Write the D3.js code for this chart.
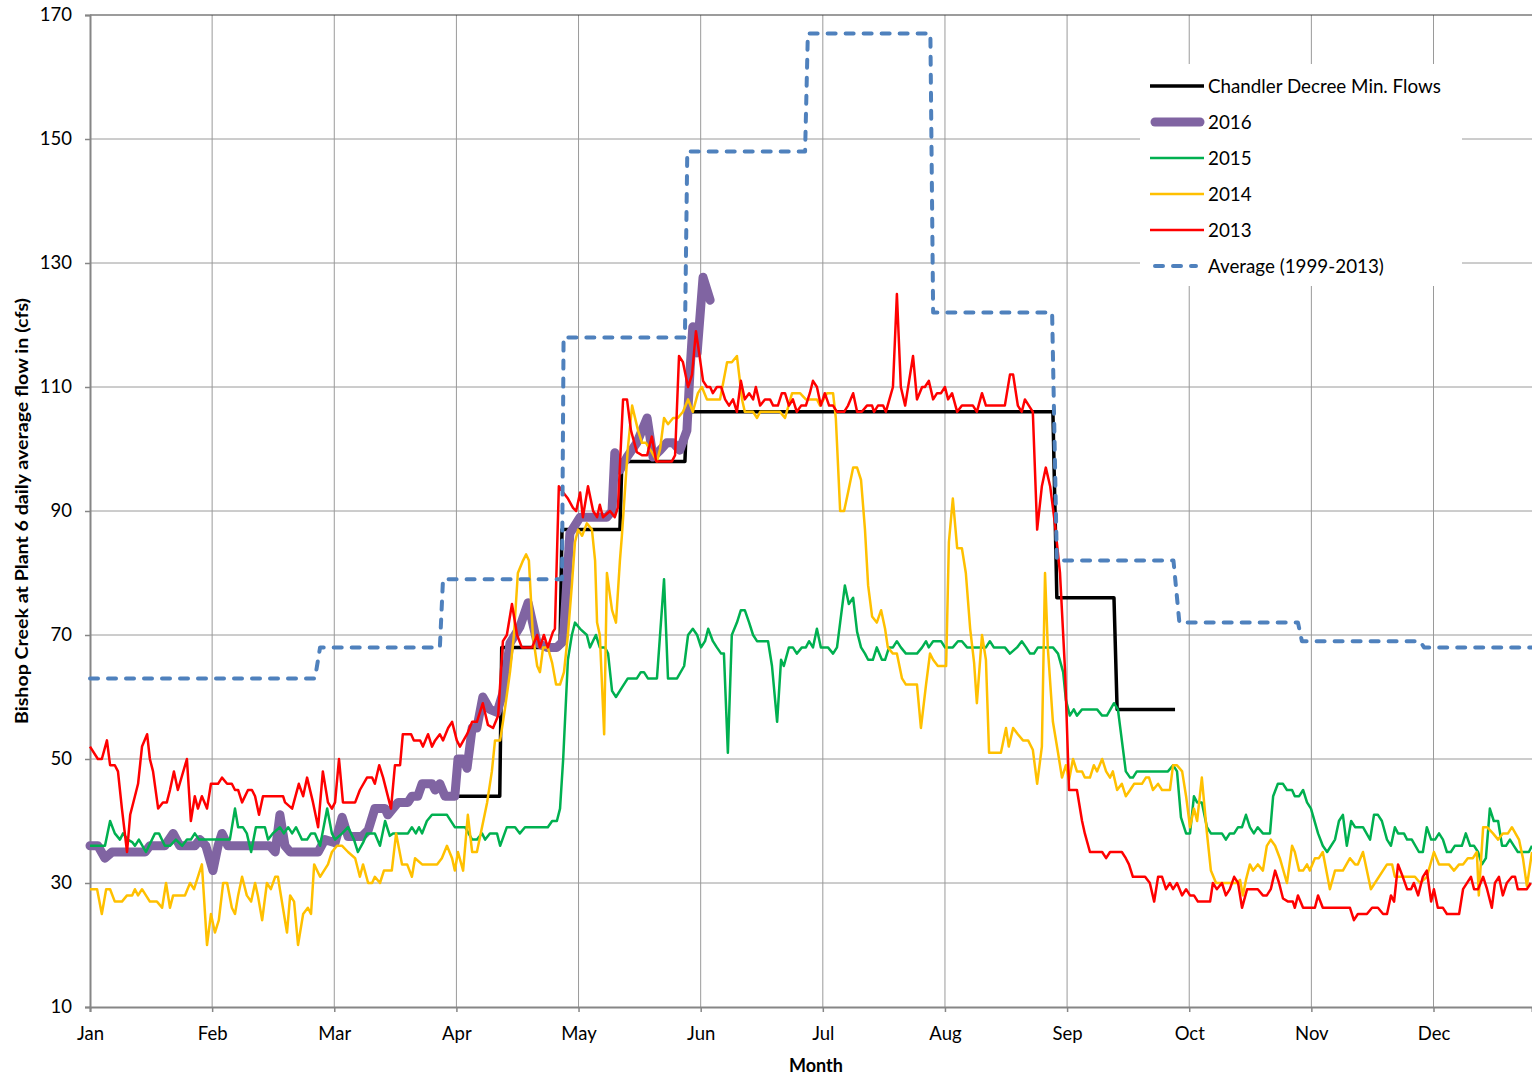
<!DOCTYPE html>
<html><head><meta charset="utf-8">
<script src="https://cdn.jsdelivr.net/npm/d3@7"></script>
<style>
body{margin:0;background:#fff;overflow:hidden;}
text{font-family:Lato,"Noto Sans",sans-serif;fill:#000;}
</style></head><body>
<svg id="chart" width="1532" height="1077"></svg>
<script>
// ---------- DATA ----------
const months = ["Jan","Feb","Mar","Apr","May","Jun","Jul","Aug","Sep","Oct","Nov","Dec"];
const monthDays = [0,31,62,93,124,155,186,217,248,279,310,341];
const yTicks = [10,30,50,70,90,110,130,150,170];
const legendLabels = ["Chandler Decree Min. Flows","2016","2015","2014","2013","Average (1999-2013)"];

// [day of year, cfs]
const chandler = [[90,44],[104,44],[104.5,68],[119.3,68],[119.8,87],[134.5,87],[135,98],[151,98],[151.5,106],[244.4,106],[245.4,76],[259.9,76],[260.7,58],[275.4,58]];

const average = [[0,63],[57.1,63],[58.4,68],[88.8,68],[89.6,79],[119.8,79],[120.2,118],[151,118],[151.6,148],[181.5,148],[182.2,167],[213.3,167],[214,122],[244.2,122],[245.4,82],[275,82],[276.5,72],[306.6,72],[307.6,69],[337.6,69],[338.6,68],[366,68]];

const y2016 = [[0,36],[2,36],[3.8,34],[5.6,35],[14,35],[15.2,36],[19,36],[21.1,38],[22.8,36],[26.6,36],[27.9,37],[29.4,36],[31.2,32],[32.5,36],[33.5,38],[35,36],[45.7,36],[47,35],[48.2,41],[49.5,36],[50.8,35],[57.9,35],[59.6,37],[62.2,36.5],[64,40.6],[65.5,37.5],[69,37.5],[70.6,38.5],[72.3,42],[74.9,42],[75.6,41],[78.2,43],[80.7,43],[81.7,44],[83.2,44],[84.3,46],[86.8,46],[87.6,45],[88.8,46],[90.1,44],[92.6,44],[93.4,50],[94.7,50],[95.7,48.5],[97,55],[98.2,55],[99.7,60],[101.5,58],[103.3,57.5],[104.8,60.6],[106.6,68.7],[109.1,71.3],[111.2,75.2],[113.5,68.7],[116,68],[118.5,68],[120.1,69],[121.8,86.4],[124.4,89],[127.7,89],[131.2,89],[132.5,90],[133.2,99.4],[134.5,96.6],[136.3,98.7],[138.8,101],[141.4,105],[142.9,98.7],[144.7,99.8],[146.4,101],[148,101],[149.7,99.8],[151.5,103],[152.3,112.7],[153,119.7],[154.1,115.5],[155.6,127.7],[157.4,124]];

const y2015 = [[0,36],[2.5,36],[3.8,36],[5.1,40],[6.3,38],[7.6,37],[8.4,38],[9.6,37],[10.7,36.6],[11.4,36],[12.4,37],[14.2,35],[16.5,38],[17.5,38],[19,36],[20.3,36],[21.8,37],[23.4,36],[24.6,37],[25.6,37],[26.6,38],[27.7,37],[35.5,37],[36.8,42],[37.6,39],[38.8,39],[39.8,38],[40.9,35],[42.1,39],[44.4,39],[45.2,37],[46.4,38],[48.2,39],[49.2,38],[50.3,39],[51.3,38],[52.3,39],[53.8,37],[55.1,37],[56.1,38],[57.1,38],[58.4,36],[59.6,40],[60.2,42],[61.4,38],[62.2,37],[64,38],[65.5,39],[67,37],[68,35],[69.3,36.5],[70.3,38],[72.3,38],[73.6,36],[74.9,40],[76.1,37.6],[76.9,38],[80.7,38],[81.7,39],[82.7,38],[83.5,39],[84.3,38],[85.5,40],[86.8,41],[90.6,41],[92.6,39],[95.2,39],[97,37],[98.2,37],[99.5,38],[100.3,37],[101.5,38],[103.3,38],[104.1,36],[105.8,39],[107.9,39],[109.1,38],[110.4,39],[116.2,39],[117.3,40],[118.5,40],[119.3,42],[120.1,50],[121.3,66],[122.3,70],[123.1,72],[124.4,71],[126.1,70],[126.9,68],[128.4,70],[129.4,68],[130.7,68],[131.5,67],[132.5,61],[133.5,60],[135,61.5],[136.5,63],[138.8,63],[139.8,64],[140.6,64],[141.6,63],[143.9,63],[145.7,79],[146.7,63],[149,63],[150.8,65],[151.8,70],[153,71],[154.1,70],[155.1,68],[156.1,69],[156.9,71],[158.1,69],[159.1,68],[160.2,67],[160.9,67],[161.9,51],[162.9,70],[164.2,72],[165.2,74],[166.2,74],[167.3,72],[168.3,70],[169.3,69],[172.1,69],[173.1,65],[174.4,56],[175.4,66],[176.1,65],[177.4,68],[178.4,68],[179.4,67],[180.7,68],[181.7,68],[182.5,69],[183.5,68],[184.5,71],[185.5,68],[187.3,68],[188.6,67],[189.6,68],[190.4,72],[191.6,78],[192.6,75],[193.7,76],[194.7,70.5],[195.7,68],[196.7,67],[197.5,66],[198.7,66],[199.7,68],[201,66],[201.8,66],[202.8,68],[203.8,68],[204.8,69],[205.8,68],[207.1,67],[209.9,67],[211.2,68],[212.2,69],[212.9,68],[214,69],[216,69],[217,68],[219,68],[220.3,69],[221.3,69],[222.6,68],[227.4,68],[228.4,69],[229.4,68],[232.2,68],[233.5,67],[235.3,68],[236.5,69],[237.6,68],[238.6,67],[239.6,67],[240.6,68],[244.4,68],[245.7,67],[247,64],[247.7,59.5],[248.7,57],[249.7,58],[250.5,57],[251.8,58],[255.6,58],[256.9,57],[258.1,57],[259.9,59],[260.9,58],[262.2,51.5],[262.9,48],[264,47],[264.7,47],[265.7,48],[273.6,48],[274.9,49],[275.9,48],[276.9,40.6],[278.2,38],[279.2,38],[280.2,44],[281,43],[282.2,43],[283.5,39],[284.5,38],[287.3,38],[288.3,37],[289.3,38],[290.4,38],[291.4,39],[292.4,39],[293.4,41],[294.4,39],[295.4,38],[296.4,39],[297.7,38],[299.5,38],[300.3,44],[301.5,46],[302.8,46],[303.8,45],[305.1,45],[305.8,44],[306.9,44],[307.9,45],[308.9,43],[309.9,42],[311.7,38],[312.9,36],[314,35],[316,37],[317,40],[318,41],[319,36],[320.1,40],[321.1,39],[323.1,39],[324.9,37],[325.9,41],[326.9,41],[327.9,40],[329.2,37],[330.2,36],[331.2,39],[332,38],[333.5,38],[334.3,37],[335.5,37],[337.3,35],[338.3,35],[339.3,39],[340.4,37],[341.4,37],[342.4,38],[343.4,37],[344.4,35],[345.4,35],[346.4,36],[348.2,36],[349.2,38],[350.3,36],[351.3,36],[352.3,35],[353.3,33],[354.3,34],[355.3,42],[356.3,40],[357.4,40],[358.4,36],[359.4,36],[360.4,37],[361.4,36],[362.4,35],[365.2,35],[366,36]];

const y2014 = [[0,29],[1.8,29],[3,25],[4.1,29],[5.1,29],[6.3,27],[8.1,27],[9.4,28],[10.7,28],[11.4,29],[12.2,28],[13.2,29],[15.2,27],[17,27],[18.3,26],[19.3,30],[20.3,26],[21.1,28],[24.1,28],[25.4,30],[26.4,29],[28.4,33],[29.7,20],[30.7,25],[31.7,22],[32.7,24],[33.8,30],[34.8,30],[36,26],[36.8,25],[37.6,28],[38.6,31],[39.8,28],[40.9,27],[41.9,30],[42.6,28],[43.7,24],[44.9,30],[45.9,29],[47,31],[47.7,31],[48.2,29],[50,22],[50.8,28],[51.8,27],[52.8,20],[54.1,25],[55.3,26],[56.1,25],[56.9,33],[58.4,31],[60.4,33],[61.4,35],[62.7,36],[64,36],[65.5,35],[67.3,34],[68.5,31],[69.3,33],[70.6,30],[71.6,30],[72.3,31],[73.6,30],[74.6,32],[76.6,32],[77.7,38],[79.2,33],[80.5,33],[81.7,31],[82.5,34],[84.3,33],[88.1,33],[89.3,34],[90.6,36],[91.9,34],[92.6,32],[93.4,35],[94.7,32],[95.9,41],[97,35],[98.2,35],[99.5,39],[100.8,43],[102,48],[102.8,53],[104.1,53],[105.3,58],[106.6,64],[107.6,70],[108.6,80],[109.9,82],[110.7,83],[111.4,82],[112.4,70],[113.5,65],[114.2,64],[115,68],[116.2,68],[117.3,65.5],[118.3,62],[119.3,62],[120.3,64],[121.3,70],[122.3,78],[123.1,85],[123.9,87],[124.9,86],[126.1,88],[127.4,87],[128.2,82],[128.7,72],[129.4,70],[130.5,54],[131.2,80],[132.5,74],[133.5,72],[134.5,82],[135,86],[136.5,100],[137.6,107],[139.1,103],[140.1,101],[141.1,101],[142.6,99.5],[143.9,98],[144.7,100],[145.7,105],[146.7,104],[148,105],[149.2,105],[150.5,106],[151.8,108],[153,106],[154.3,109],[155.3,110],[156.6,108],[159.9,108],[161.7,114],[162.9,114],[164.2,115],[165.5,108],[166.2,106],[168.3,106],[169.3,105],[170.1,106],[175.1,106],[176.4,105],[178.2,109],[180.2,109],[181.7,108],[184.5,108],[185.3,107],[187.1,109],[188.6,109],[189.3,105],[190.4,90],[191.4,90],[192.4,93],[193.7,97],[194.7,97],[195.7,95],[196.7,87],[197.5,78],[198.5,73],[199.7,72],[200.8,74],[201.8,71],[202.5,68],[203.8,67],[204.8,67],[206.1,63],[207.1,62],[209.9,62],[210.9,55],[212.2,62],[213.2,67],[214,66],[215.2,65],[217.3,65],[218,85],[219,92],[220.1,84],[221.3,84],[222.3,80],[223.4,71],[224.4,65.5],[225.1,59],[226.4,70],[227.4,66],[228.2,51],[231.2,51],[232.5,55],[233.2,52],[234.3,55],[235.5,54],[236.8,53],[238.1,53],[239.3,51.5],[240.4,46],[241.6,52],[242.4,80],[243.1,68],[244.4,56],[245.7,51],[246.7,47],[247.7,49],[248.5,46.6],[249.5,50],[250.5,48],[251.8,48],[252.5,47],[253.8,47],[254.8,49],[255.6,48],[256.9,50],[257.9,48],[258.9,47],[259.6,48],[260.7,45],[261.9,46],[262.9,44],[264,45],[265,46],[267,46],[268,47],[268.8,47],[269.8,45],[271.1,46],[272.1,45],[274.1,45],[274.9,49],[275.9,49],[277.2,48],[278.2,44],[279.2,39],[280.2,42],[281,40],[282.2,47],[283.5,38],[284.5,32],[285.8,30],[291.1,30],[291.9,30.5],[292.6,28],[293.4,30.5],[294.4,33],[295.2,32],[296.4,33],[297.7,32],[298.7,36],[299.7,37],[300.8,36],[302,34],[303.8,30],[305.1,36],[305.8,35],[306.9,32],[307.9,32],[308.9,33],[309.6,32],[310.9,34],[311.9,34],[312.9,35],[314.7,29],[316,32],[318,32],[319.8,34],[321.1,33],[321.8,33],[323.1,35],[325.1,29],[329.2,33],[330.5,33],[331.2,31],[336.3,31],[337.6,30],[339.3,31],[341.1,35],[342.4,33],[344.9,33],[346.2,32],[347.5,33],[348.5,33],[349.7,34],[351,34],[352,35],[352.5,28],[353.6,39],[354.6,39],[356.1,38],[357.4,37],[358.6,38],[359.9,38],[360.9,39],[362.7,37],[363.7,34],[364.7,29.5],[366,35]];

const y2013 = [[0,52],[2,50],[3,50],[4.3,53],[5.1,49],[6.3,49],[7.1,48],[8.1,42],[9.4,35],[10.2,41],[11.4,44],[12.2,46],[13.2,52],[14.5,54],[15.2,50],[16,48],[17.3,42],[18.5,43],[19.5,43],[20.3,45],[21.3,48],[22.3,45],[24.6,50],[25.6,40],[26.6,44],[27.4,42],[28.4,44],[29.7,42],[30.7,46],[32.5,46],[33.5,47],[34.8,46],[36,46],[36.8,45],[37.6,45],[38.6,43],[40.1,45],[41.1,45],[41.9,44],[42.9,41],[43.9,44],[49,44],[49.5,43],[51.3,42],[53,46],[54.1,44],[55.1,47],[56.6,43],[57.9,39],[59.1,48],[60.4,43],[61.4,42],[62.2,43],[63.2,50],[64.2,43],[67.3,43],[68.5,45],[70.3,47],[71.6,47],[72.3,46],[73.4,49],[74.4,47],[76.4,42],[77.4,49],[78.7,49],[79.4,54],[81.5,54],[82.2,53],[83.8,53],[84.5,52],[85.8,54],[86.8,52],[87.6,53],[88.8,54],[89.6,53],[90.9,55],[91.9,56],[93.1,53],[93.9,52],[95.7,54],[97,56],[98.2,56],[99.7,59],[101,55.5],[102.3,55],[103.6,57],[104.8,69],[105.8,70],[107.1,75],[108.4,70],[109.6,68],[112.2,68],[113.5,70],[114.2,68],[115.2,70],[116.2,68],[117.5,70.5],[118,71],[119,94],[120.1,93],[121.3,92],[122.6,90.5],[123.4,90],[124.4,93],[125.1,89],[126.4,94],[127.7,90],[128.7,89],[129.4,91],[130.2,89],[132,90],[133.2,89],[134,90.6],[135.3,108],[136.3,108],[137.3,103],[138.8,99.5],[140.1,99],[141.4,99],[142.6,102],[143.7,98],[147.7,98],[148.5,99],[149.5,115],[150.5,114],[151.8,110],[152.8,112],[153.8,119],[154.6,115.5],[155.6,111],[156.6,110],[157.4,110],[158.1,109],[159.1,110],[160.2,110],[161.2,108],[162.2,107],[163.2,108],[164.2,106],[165.2,111],[166.2,108],[167.3,109],[168.3,108],[169,110],[170.1,107],[171.3,108],[172.6,108],[173.4,107],[174.6,107],[175.6,109],[176.4,109],[177.4,107],[178.4,108],[179.4,106],[180.5,107],[181.7,107],[182.7,109],[183.5,111],[184.5,110],[185.5,107],[186.5,109],[187.6,107],[188.6,107],[189.6,106],[191.4,106],[192.4,107],[193.7,109],[194.7,106],[195.9,106],[197.2,107],[198.5,107],[199,106],[200,107],[201.3,107],[202,106],[203.8,110],[204.8,125],[205.8,110],[206.9,107],[208.9,115],[209.9,108],[211.2,110],[211.9,110],[212.9,111],[214,108],[215,109],[216,109],[217,110],[217.8,108],[218.8,109],[220.1,106],[221.3,107],[224.1,107],[225.1,106],[226.4,109],[227.4,107],[232.2,107],[233.5,112],[234.3,112],[235.5,107],[236.5,106],[237.3,108],[238.3,107],[239.3,106],[240.4,87],[241.6,94],[242.6,97],[243.7,94],[244.9,88],[246.2,80],[247.5,64],[248.5,45],[250.5,45],[251.8,40],[252.5,38],[253.8,35],[256.9,35],[257.9,34],[258.9,35],[261.9,35],[262.9,34],[263.7,33],[264.7,31],[267.8,31],[269,30],[270.1,27],[271.1,31],[272.1,31],[273.1,29],[274.1,30],[274.9,29],[275.9,30],[277.2,28],[278.2,29],[279.2,28],[280.2,28],[281.2,27],[284.3,27],[285,30],[286,29],[287.3,30],[288.3,28],[289.3,29],[290.4,31],[291.4,30],[292.4,26],[293.7,29],[296.4,29],[297.7,28],[298.7,28],[299.7,29],[300.8,32],[301.8,30],[302.8,27.5],[304.1,27],[305.3,27],[305.8,26],[306.6,28],[307.9,26],[310.9,26],[311.7,28],[312.9,26],[319.8,26],[320.8,24],[321.8,25],[324.1,25],[325.4,26],[326.9,26],[328.2,25],[329.2,25],[330.2,28],[331,27],[332,33],[333.2,31],[334.3,29],[335.3,29],[336,30],[337.1,28],[338.3,31],[339.3,32],[340.4,27],[341.1,29],[342.1,26],[343.4,26],[344.4,25],[347.5,25],[348.5,29],[350.5,31],[351.3,29],[352.3,29],[353.6,31],[354.6,29],[355.8,26],[356.6,30],[357.6,31],[358.6,28],[359.6,30],[360.9,31],[361.7,31],[362.4,29],[364.7,29],[365.7,30]];

// ---------- CHART ----------
const m = {left:90, top:15, right:1532, bottom:1007};
const svg = d3.select("#chart");
const x = d3.scaleLinear().domain([0,366]).range([m.left, m.right]);
const y = d3.scaleLinear().domain([10,170]).range([m.bottom, m.top]);

// gridlines
const grid = svg.append("g");
grid.selectAll("line.h").data(yTicks.filter(v => v>10 && v<170)).join("line")
  .attr("x1", m.left).attr("x2", m.right).attr("y1", d=>y(d)).attr("y2", d=>y(d))
  .attr("stroke", "#9a9a9a").attr("stroke-width", 1);
grid.selectAll("line.v").data(monthDays.slice(1)).join("line")
  .attr("x1", d=>x(d)).attr("x2", d=>x(d)).attr("y1", m.top).attr("y2", m.bottom)
  .attr("stroke", "#9a9a9a").attr("stroke-width", 1);
// top border
svg.append("line").attr("x1", m.left).attr("x2", m.right).attr("y1", y(170)).attr("y2", y(170))
  .attr("stroke", "#3a3a3a").attr("stroke-width", 1.2);

// axes
const yAxis = svg.append("g").attr("transform", `translate(${m.left},0)`)
  .call(d3.axisLeft(y).tickValues(yTicks).tickSize(5).tickPadding(13));
const xAxis = svg.append("g").attr("transform", `translate(0,${m.bottom})`)
  .call(d3.axisBottom(x).tickValues(monthDays).tickFormat((d,i)=>months[i]).tickSize(5).tickPadding(15));
[yAxis, xAxis].forEach(g => {
  g.select(".domain").attr("stroke", "#868686").attr("stroke-width", 2);
  g.selectAll(".tick line").attr("stroke", "#868686").attr("stroke-width", 1.5);
  g.selectAll(".tick text").attr("font-size", 18.5).attr("font-family", "Lato, 'Noto Sans', sans-serif").attr("fill", "#000");
});

// series
const line = d3.line().x(d=>x(d[0])).y(d=>y(d[1]));
const series = [
  {data: chandler, color:"#000000", width:3.5},
  {data: y2016, color:"#8064A2", width:9, cap:"round"},
  {data: y2015, color:"#00B050", width:2.5},
  {data: y2014, color:"#FFC000", width:2.5},
  {data: y2013, color:"#FF0000", width:2.5},
  {data: average, color:"#4F81BD", width:4, dash:"8,10", cap:"round"}
];
const plot = svg.append("g");
series.forEach(s => {
  plot.append("path").attr("d", line(s.data)).attr("fill","none")
    .attr("stroke", s.color).attr("stroke-width", s.width)
    .attr("stroke-linejoin","round").attr("stroke-linecap", s.cap || "butt")
    .attr("stroke-dasharray", s.dash || null);
});

// legend
const lg = svg.append("g");
lg.append("rect").attr("x",1140).attr("y",64).attr("width",322).attr("height",222).attr("fill","#fff");
series.forEach((s,i) => {
  const ly = 86 + i*36;
  lg.append("line").attr("x1", s.cap==="round" ? 1155 : 1150).attr("x2", s.dash?1196:(s.cap==="round"?1200:1204))
    .attr("y1", ly).attr("y2", ly)
    .attr("stroke", s.color).attr("stroke-width", s.width)
    .attr("stroke-linecap", s.cap || "butt").attr("stroke-dasharray", s.dash || null);
  lg.append("text").attr("x", 1208).attr("y", ly).attr("dy","0.35em")
    .attr("font-size", 18.8).text(legendLabels[i]);
});

// titles
svg.append("text").attr("x", 816).attr("y", 1072).attr("text-anchor","middle")
  .attr("font-weight","bold").attr("font-size",18).text("Month");
svg.append("text").attr("transform","translate(28,511) rotate(-90)").attr("text-anchor","middle")
  .attr("font-weight","bold").attr("font-size",16.5)
  .attr("textLength",426).attr("lengthAdjust","spacingAndGlyphs")
  .text("Bishop Creek  at Plant 6  daily average flow in (cfs)");
</script>
</body></html>
